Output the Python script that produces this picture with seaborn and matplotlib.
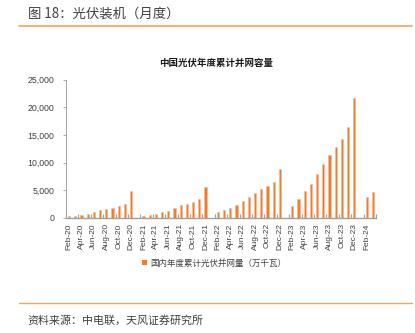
import numpy as np
import pandas as pd
import matplotlib
matplotlib.use("Agg")
import matplotlib.pyplot as plt
import seaborn as sns
from matplotlib.patches import Patch
from matplotlib.lines import Line2D
from matplotlib.ticker import FuncFormatter

# ---------------- data ----------------
months_2020 = ["Feb-20", "Mar-20", "Apr-20", "May-20", "Jun-20", "Jul-20",
               "Aug-20", "Sep-20", "Oct-20", "Nov-20", "Dec-20"]
values_2020 = [267, 395, 541, 720, 1100, 1330, 1530, 1820, 2170, 2560, 4820]

months_2021 = ["Jan-21", "Feb-21", "Mar-21", "Apr-21", "May-21", "Jun-21", "Jul-21",
               "Aug-21", "Sep-21", "Oct-21", "Nov-21", "Dec-21"]
values_2021 = [None, 300, 533, 713, 1011, 1301, 1750, 2230, 2556, 2931, 3450, 5488]

months_2022 = ["Jan-22", "Feb-22", "Mar-22", "Apr-22", "May-22", "Jun-22", "Jul-22",
               "Aug-22", "Sep-22", "Oct-22", "Nov-22", "Dec-22"]
values_2022 = [None, 1086, 1321, 1688, 2379, 3088, 3761, 4447, 5260, 5824, 6530, 8741]

months_2023 = ["Jan-23", "Feb-23", "Mar-23", "Apr-23", "May-23", "Jun-23", "Jul-23",
               "Aug-23", "Sep-23", "Oct-23", "Nov-23", "Dec-23"]
values_2023 = [None, 2043, 3366, 4831, 6121, 7842, 9716, 11316, 12894, 14256, 16388, 21688]

months_2024 = ["Jan-24", "Feb-24", "Mar-24"]
values_2024 = [None, 3672, 4574]

series_name = "国内年度累计光伏并网量（万千瓦）"
chart_title = "中国光伏年度累计并网容量"
fig_title = "图 18：光伏装机（月度）"
source_text = "资料来源：中电联，天风证券研究所"

order = months_2020 + months_2021 + months_2022 + months_2023 + months_2024
all_values = values_2020 + values_2021 + values_2022 + values_2023 + values_2024
df = pd.DataFrame({"month": order, "value": all_values}).dropna()

# ---------------- style ----------------
sns.set_style("white")
plt.rcParams["font.family"] = ["Liberation Sans", "Noto Sans CJK SC", "DejaVu Sans"]
cjk_first = ["Noto Sans CJK SC", "DejaVu Sans"]

W, H = 415, 333
fig = plt.figure(figsize=(W / 100, H / 100), dpi=100)

def fx(px):
    return px / W

def fy(py):
    return 1 - py / H

ax_l, ax_r, ax_t, ax_b = 66, 376, 79.7, 217.7
ax = fig.add_axes([fx(ax_l), fy(ax_b), fx(ax_r - ax_l), (ax_b - ax_t) / H])

bar_color = "#ED7D31"
sns.barplot(data=df, x="month", y="value", order=order, color=bar_color,
            saturation=1, width=0.36, errorbar=None, ax=ax,
            edgecolor="#F6B88C", linewidth=0.4)

ax.set_xlim(-0.5, len(order) - 0.5)
ax.set_ylim(0, 25000)
ax.set_xlabel("")
ax.set_ylabel("")

text_color = "#404040"
axis_color = "#A0A0A0"

ax.set_yticks(np.arange(0, 25001, 5000))
ax.yaxis.set_major_formatter(FuncFormatter(lambda v, p: f"{int(v):,}"))
ax.tick_params(axis="y", direction="out", length=2, width=0.6, color=axis_color,
               labelsize=6.3, labelcolor=text_color, pad=6.3, left=True)

ax.set_xticks(np.arange(0, len(order), 2))
ax.set_xticklabels(order[::2], rotation=90)
ax.tick_params(axis="x", which="major", length=0, labelsize=6.0,
               labelcolor=text_color, pad=4)
ax.set_xticks(np.arange(-0.5, len(order), 2), minor=True)
ax.tick_params(axis="x", which="minor", direction="in", length=3, width=0.8,
               color=axis_color, bottom=True)

for s in ["top", "right"]:
    ax.spines[s].set_visible(False)
ax.spines["left"].set_color(axis_color)
ax.spines["left"].set_linewidth(0.7)
ax.spines["bottom"].set_color(axis_color)
ax.spines["bottom"].set_linewidth(1.0)
ax.grid(False)

# chart title
fig.text(fx(216.5), fy(63.3), chart_title, ha="center", va="center",
         fontsize=6.8, fontweight="bold", color="#1a1a1a", family=cjk_first)

# legend
handle = Patch(facecolor=bar_color, edgecolor="none")
fig.legend(handles=[handle], labels=[series_name], loc="center",
           bbox_to_anchor=(fx(214), fy(263.3)), frameon=False,
           fontsize=6.1, handlelength=0.6, handleheight=0.6,
           handletextpad=0.35, labelcolor=text_color, borderaxespad=0)

# header / footer
fig.text(fx(27.7), fy(13.5), fig_title, ha="left", va="center",
         fontsize=9.6, color="#3f3f3f", family=cjk_first)
fig.text(fx(27), fy(320), source_text, ha="left", va="center",
         fontsize=7.9, color="#3f3f3f", family=cjk_first)

line_color = "#F5A45D"
fig.add_artist(Line2D([fx(19), fx(412)], [fy(25.7), fy(25.7)],
                      color=line_color, linewidth=1.2))
fig.add_artist(Line2D([fx(19), fx(412)], [fy(302.7), fy(302.7)],
                      color=line_color, linewidth=1.0))

fig.savefig("out.png", dpi=100, facecolor="white")
